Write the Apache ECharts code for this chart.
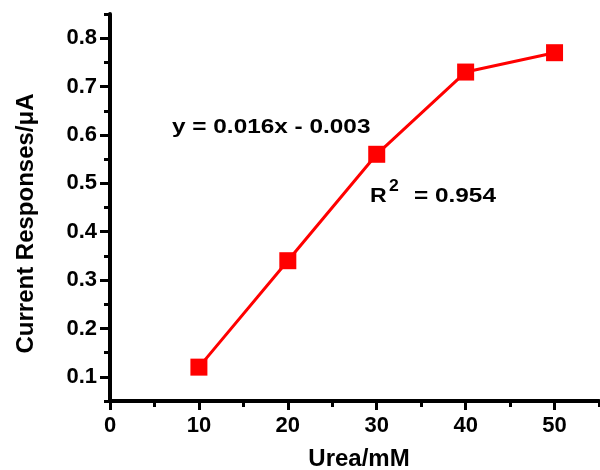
<!DOCTYPE html>
<html><head><meta charset="utf-8">
<script src="https://cdn.jsdelivr.net/npm/echarts@6/dist/echarts.min.js"></script>
<style>html,body{margin:0;padding:0;background:#fff}#c{width:600px;height:470px}</style>
</head><body><div id="c"></div>
<script>
var xValues = [10, 20, 30, 40, 50];
var yValues = [0.12, 0.34, 0.56, 0.73, 0.77];
var xTickLabels = [0, 10, 20, 30, 40, 50];
var yTickLabels = [0.1, 0.2, 0.3, 0.4, 0.5, 0.6, 0.7, 0.8];
var xTitle = 'Urea/mM';
var yTitle = 'Current Responses/\u03bcA';
var fitText = 'y = 0.016x - 0.003';
var r2Main = 'R';
var r2Sup = '2';
var r2Value = '= 0.954';

var FONT = '"Liberation Sans", Arial, sans-serif';
var chart = echarts.init(document.getElementById('c'), null, {renderer: 'canvas'});
function tickStyle() { return {color: '#000', width: 3}; }
function lineStyle() { return {color: '#000', width: 4}; }
var option = {
  animation: false,
  backgroundColor: '#fff',
  grid: {left: 110, right: 1, top: 14, bottom: 69, outerBoundsMode: 'none'},
  xAxis: [{
    type: 'value', min: 0, max: 55, interval: 5, position: 'bottom',
    axisLine: {show: true, onZero: false, lineStyle: lineStyle()},
    axisTick: {show: true, length: 9, customValues: xTickLabels, lineStyle: tickStyle()},
    axisLabel: {show: true, customValues: xTickLabels, margin: 14, color: '#000', fontFamily: FONT, fontWeight: 'bold', fontSize: 22},
    splitLine: {show: false},
    name: xTitle, nameLocation: 'middle', nameGap: 46,
    nameTextStyle: {color: '#000', fontFamily: FONT, fontWeight: 'bold', fontSize: 24, padding: [0, 0, 0, 9]}
  }, {
    type: 'value', min: 0, max: 55, interval: 5, position: 'bottom',
    axisLine: {show: false, onZero: false},
    axisTick: {show: true, length: 6, lineStyle: tickStyle()},
    axisLabel: {show: false},
    splitLine: {show: false}
  }],
  yAxis: [{
    type: 'value', min: 0.05, max: 0.85, interval: 0.05, position: 'left',
    axisLine: {show: true, onZero: false, lineStyle: lineStyle()},
    axisTick: {show: true, length: 10, customValues: yTickLabels, lineStyle: tickStyle()},
    axisLabel: {show: true, customValues: yTickLabels, margin: 13, color: '#000', fontFamily: FONT, fontWeight: 'bold', fontSize: 22},
    splitLine: {show: false},
    name: yTitle, nameLocation: 'middle', nameGap: 72,
    nameTextStyle: {color: '#000', fontFamily: FONT, fontWeight: 'bold', fontSize: 24, padding: [0, 32, 0, 0]}
  }, {
    type: 'value', min: 0.05, max: 0.85, interval: 0.05, position: 'left',
    axisLine: {show: false, onZero: false},
    axisTick: {show: true, length: 6, lineStyle: tickStyle()},
    axisLabel: {show: false},
    splitLine: {show: false}
  }],
  series: [{
    type: 'line',
    xAxisIndex: 0, yAxisIndex: 0,
    data: xValues.map(function (x, i) { return [x, yValues[i]]; }),
    symbol: 'rect', symbolSize: 17,
    itemStyle: {color: '#ff0000'},
    lineStyle: {color: '#ff0000', width: 3},
    z: 3
  }],
  graphic: [
    {type: 'text', x: 172, y: 127, scaleX: 1.16, style: {text: fitText, font: 'bold 21px ' + FONT, fill: '#000', verticalAlign: 'middle', align: 'left'}},
    {type: 'text', x: 370, y: 196, scaleX: 1.1, style: {text: r2Main, font: 'bold 21px ' + FONT, fill: '#000', verticalAlign: 'middle', align: 'left'}},
    {type: 'text', x: 389, y: 187, scaleX: 1.1, style: {text: r2Sup, font: 'bold 16px ' + FONT, fill: '#000', verticalAlign: 'middle', align: 'left'}},
    {type: 'text', x: 414, y: 196, scaleX: 1.16, style: {text: r2Value, font: 'bold 21px ' + FONT, fill: '#000', verticalAlign: 'middle', align: 'left'}}
  ]
};
chart.setOption(option);
</script>
</body></html>
